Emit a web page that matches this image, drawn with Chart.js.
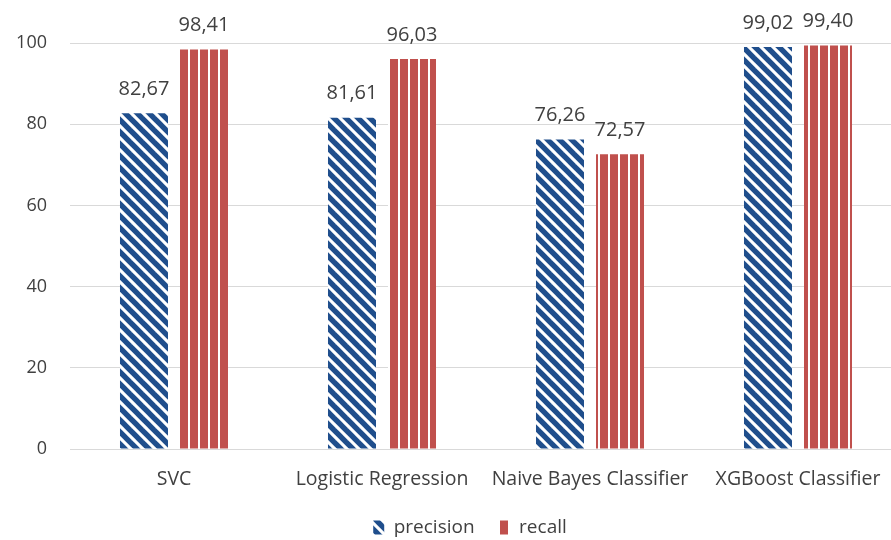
<!DOCTYPE html>
<html>
<head>
<meta charset="utf-8">
<script src="https://cdn.jsdelivr.net/npm/chart.js@4/dist/chart.umd.min.js"></script>
<style>
  html, body { margin: 0; padding: 0; background: #ffffff; }
  #wrap { width: 891px; height: 540px; overflow: hidden; }
</style>
</head>
<body>
<div id="wrap"><canvas id="c" width="940" height="540"></canvas></div>
<script>
const categories = ["SVC", "Logistic Regression", "Naive Bayes Classifier", "XGBoost Classifier"];
const precision = [82.67, 81.61, 76.26, 99.02];
const recall = [98.41, 96.03, 72.57, 99.40];
const yTicks = [0, 20, 40, 60, 80, 100];

const BLUE = "#1F4E8C";
const RED = "#C0504D";
const FONT = "'Open Sans', sans-serif";

// diagonal navy/white stripes
function diagonalPattern() {
  const s = 12;
  const t = document.createElement("canvas");
  t.width = s; t.height = s;
  const g = t.getContext("2d");
  g.fillStyle = "#ffffff";
  g.fillRect(0, 0, s, s);
  g.strokeStyle = BLUE;
  g.lineWidth = 5.4;
  for (let k = -1; k <= 1; k++) {
    g.beginPath();
    g.moveTo(k * s - 3, -3);
    g.lineTo(k * s + s + 3, s + 3);
    g.stroke();
  }
  return g.createPattern(t, "repeat");
}

// vertical red stripes with thin white gaps
function verticalPattern() {
  const w = 10;
  const t = document.createElement("canvas");
  t.width = w; t.height = 4;
  const g = t.getContext("2d");
  g.fillStyle = RED;
  g.fillRect(0, 0, w, 4);
  g.fillStyle = "#ffffff";
  g.fillRect(8, 0, 2, 4);
  return g.createPattern(t, "repeat");
}

const fmt = v => v.toFixed(2).replace(".", ",");

const valueLabels = {
  id: "valueLabels",
  afterDatasetsDraw(chart) {
    const ctx = chart.ctx;
    ctx.save();
    ctx.font = "20px " + FONT;
    ctx.fillStyle = "#404040";
    ctx.textAlign = "center";
    ctx.textBaseline = "middle";
    chart.data.datasets.forEach((ds, i) => {
      chart.getDatasetMeta(i).data.forEach((bar, j) => {
        ctx.fillText(fmt(ds.data[j]), bar.x, bar.y - 24);
      });
    });
    ctx.restore();
  }
};

// nudge the legend row to the right of the canvas centre
const legendShift = {
  id: "legendShift",
  afterLayout(chart) {
    if (chart.legend) {
      chart.legend.left += 19;
      chart.legend.right += 19;
    }
  }
};

new Chart(document.getElementById("c"), {
  type: "bar",
  data: {
    labels: categories,
    datasets: [
      { label: "precision", data: precision, backgroundColor: diagonalPattern(), borderWidth: 0 },
      { label: "recall", data: recall, backgroundColor: verticalPattern(), borderWidth: 0 }
    ]
  },
  options: {
    responsive: false,
    animation: false,
    devicePixelRatio: 1,
    layout: { padding: { top: 43, right: 38, left: 0, bottom: -7 } },
    datasets: { bar: { categoryPercentage: 0.577, barPercentage: 0.8 } },
    scales: {
      x: {
        grid: { display: false },
        border: { display: true, color: "#d9d9d9" },
        ticks: { color: "#404040", font: { family: FONT, size: 19.5 }, padding: 11 },
        afterFit: axis => { axis.height = 45; }
      },
      y: {
        min: 0, max: 100,
        afterBuildTicks: axis => { axis.ticks = yTicks.map(v => ({ value: v })); },
        grid: { color: "#d9d9d9", drawTicks: false },
        border: { display: false },
        ticks: { color: "#404040", font: { family: FONT, size: 18 }, padding: 23 },
        afterFit: axis => { axis.width = 70; }
      }
    },
    plugins: {
      legend: {
        position: "bottom",
        labels: {
          boxWidth: 11, boxHeight: 14,
          color: "#404040",
          font: { family: FONT, size: 19 },
          padding: 24
        }
      },
      tooltip: { enabled: false }
    }
  },
  plugins: [valueLabels, legendShift]
});
</script>
</body>
</html>
